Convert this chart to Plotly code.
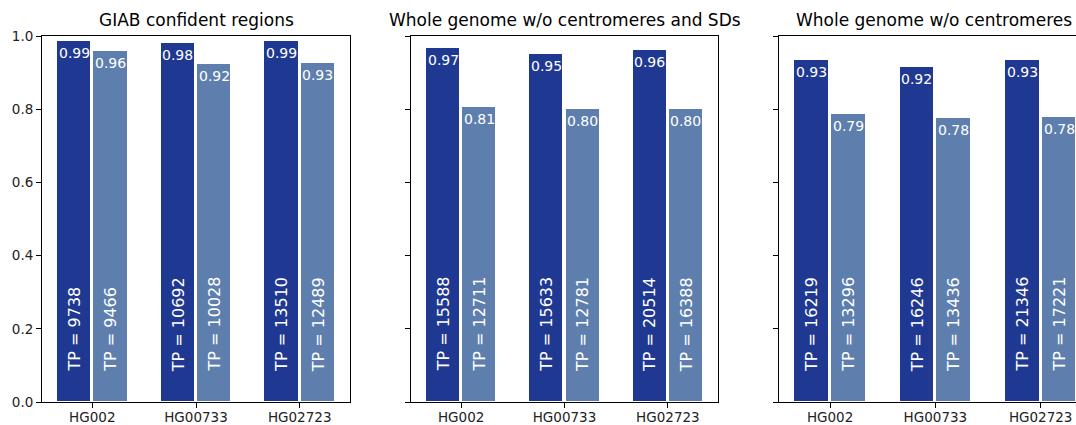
import plotly.graph_objects as go

# Samples and recall values per region set
samples = ["HG002", "HG00733", "HG02723"]
titles = [
    "GIAB confident regions",
    "Whole genome w/o centromeres and SDs",
    "Whole genome w/o centromeres",
]
dark_vals = [
    [0.986, 0.981, 0.987],
    [0.968, 0.952, 0.963],
    [0.934, 0.915, 0.934],
]
light_vals = [
    [0.959, 0.923, 0.926],
    [0.807, 0.800, 0.801],
    [0.787, 0.777, 0.780],
]
dark_tp = [
    [9738, 10692, 13510],
    [15588, 15633, 20514],
    [16219, 16246, 21346],
]
light_tp = [
    [9466, 10028, 12489],
    [12711, 12781, 16388],
    [13296, 13436, 17221],
]
y_ticks = [0.0, 0.2, 0.4, 0.6, 0.8, 1.0]

DARK = "#1f3891"
LIGHT = "#5e7fae"
W, H = 1076, 425
BAR_W = 0.33
BAR_OFF = 0.175
FONT = "DejaVu Sans"
PX_PER_UNIT = 105.3

# panel frames in pixels (left, right), shared top/bottom
panels_px = [(42, 350), (411, 718), (779, 1076)]
top_px, bot_px = 36, 402
ydom = [1 - bot_px / H, 1 - top_px / H]

fig = go.Figure()
annotations = []

for p in range(3):
    xa = "x" if p == 0 else f"x{p + 1}"
    ya = "y" if p == 0 else f"y{p + 1}"
    xs = list(range(len(samples)))
    for vals, tps, col, off in [
        (dark_vals[p], dark_tp[p], DARK, -BAR_OFF),
        (light_vals[p], light_tp[p], LIGHT, BAR_OFF),
    ]:
        bx = [x + off for x in xs]
        fig.add_trace(go.Bar(
            x=bx, y=vals, width=BAR_W, xaxis=xa, yaxis=ya,
            marker=dict(color=col, line=dict(color="white", width=1)),
            showlegend=False, hoverinfo="skip",
        ))
        for x, v, tp in zip(bx, vals, tps):
            annotations.append(dict(
                x=x, y=v, xref=xa, yref=ya, text=f"{v:.2f}",
                showarrow=False, xanchor="center", yanchor="top", yshift=-2,
                font=dict(family=FONT, size=14, color="white"),
            ))
            annotations.append(dict(
                x=x, y=0.077, xref=xa, yref=ya, text=f"TP = {tp}",
                showarrow=False, textangle=-90, xanchor="center", yanchor="bottom",
                font=dict(family=FONT, size=16, color="white"),
            ))
    l, r = panels_px[p]
    xdom = [l / W, r / W]
    xr = [-0.485, 2.485] if p < 2 else [-0.485, -0.485 + (r - l) / PX_PER_UNIT]
    axis_common = dict(showline=True, linecolor="black", linewidth=1,
                       ticks="outside", ticklen=5, tickcolor="black",
                       showgrid=False, zeroline=False, automargin=False,
                       tickfont=dict(family=FONT, size=13.5, color="#222"))
    xkey = "xaxis" if p == 0 else f"xaxis{p + 1}"
    ykey = "yaxis" if p == 0 else f"yaxis{p + 1}"
    fig.update_layout({
        xkey: dict(domain=xdom, range=xr, anchor=ya, mirror=True,
                   tickvals=xs, ticktext=samples, ticklabelstandoff=-2,
                   **axis_common),
        ykey: dict(domain=ydom, range=[0, 1.0], anchor=xa,
                   mirror=(p < 2), tickvals=y_ticks,
                   ticktext=[f"{t:.1f}" for t in y_ticks] if p == 0 else [""] * 6,
                   **axis_common),
    })
    annotations.append(dict(
        x=(l + r) / 2 / W if p < 2 else (l + 1089) / 2 / W,
        y=1 - 20 / H, xref="paper", yref="paper",
        text=titles[p], showarrow=False, xanchor="center", yanchor="middle",
        font=dict(family=FONT, size=17, color="black"),
    ))

fig.update_layout(
    width=W, height=H, margin=dict(l=0, r=0, t=0, b=0),
    plot_bgcolor="white", paper_bgcolor="white",
    annotations=annotations, barmode="overlay", bargap=0,
)
fig.write_html("out.html")
